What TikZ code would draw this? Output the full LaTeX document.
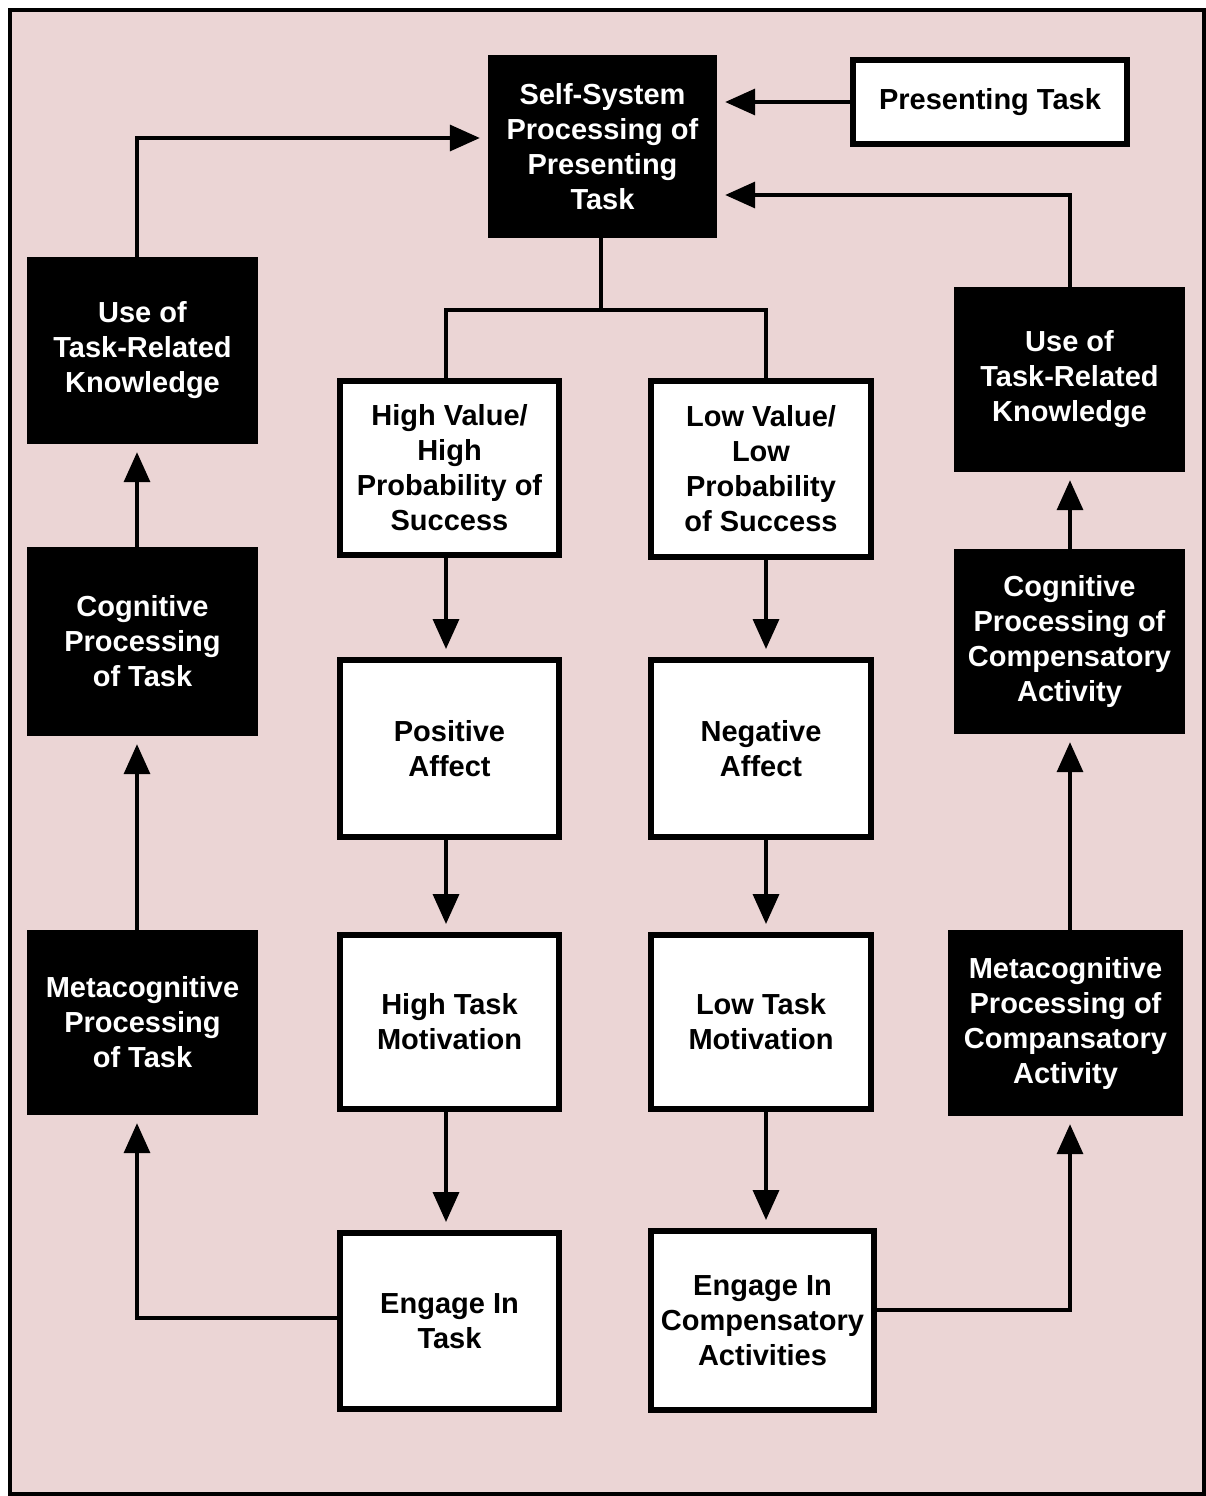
\documentclass[tikz,border=0pt]{standalone}
\usepackage{fontspec}
\setmainfont{Liberation Sans}
\usetikzlibrary{arrows.meta,calc}
\definecolor{bgpink}{HTML}{EBD5D5}
\begin{document}
\begin{tikzpicture}[x=1pt,y=-1pt,
  boxfont/.style={font=\bfseries\fontsize{29}{35}\selectfont},
  blackbox/.style={boxfont,fill=black,text=white,draw=none,align=center,inner sep=0pt},
  whitebox/.style={boxfont,fill=white,text=black,draw=black,line width=6pt,align=center,inner sep=0pt},
  arr/.style={line width=3.5pt,-{Triangle[length=30pt,width=26pt]},shorten >=8pt},
  conn/.style={line width=3.5pt}]
\useasboundingbox (0,0) rectangle (1206,1496);
\fill[white] (0,0) rectangle (1206,1496);
\draw[fill=bgpink,line width=3.5pt] (10,10) rectangle (1204,1494);

% top
\node[blackbox,minimum width=229pt,minimum height=183pt] (ss) at (602.5,146.5) {Self-System\\Processing of\\Presenting\\Task};
\node[whitebox,minimum width=274pt,minimum height=84pt] (pt) at (990,102) {Presenting Task};

% left column
\node[blackbox,minimum width=231pt,minimum height=187pt] (lu) at (142.5,350.5) {Use of\\Task-Related\\Knowledge};
\node[blackbox,minimum width=231pt,minimum height=189pt] (lc) at (142.5,641.5) {Cognitive\\Processing\\of Task};
\node[blackbox,minimum width=231pt,minimum height=185pt] (lm) at (142.5,1022.5) {Metacognitive\\Processing\\of Task};

% middle-left column
\node[whitebox,minimum width=219pt,minimum height=174pt] (hv) at (449.5,468) {High Value/\\High\\Probability of\\Success};
\node[whitebox,minimum width=219pt,minimum height=177pt] (pa) at (449.5,748.5) {Positive\\Affect};
\node[whitebox,minimum width=219pt,minimum height=174pt] (ht) at (449.5,1022) {High Task\\Motivation};
\node[whitebox,minimum width=219pt,minimum height=176pt] (ei) at (449.5,1321) {Engage In\\Task};

% middle-right column
\node[whitebox,minimum width=220pt,minimum height=176pt] (lv) at (761,469) {Low Value/\\Low\\Probability\\of Success};
\node[whitebox,minimum width=220pt,minimum height=177pt] (na) at (761,748.5) {Negative\\Affect};
\node[whitebox,minimum width=220pt,minimum height=174pt] (lt) at (761,1022) {Low Task\\Motivation};
\node[whitebox,minimum width=223pt,minimum height=179pt] (ec) at (762.5,1320.5) {Engage In\\Compensatory\\Activities};

% right column
\node[blackbox,minimum width=231pt,minimum height=185pt] (ru) at (1069.5,379.5) {Use of\\Task-Related\\Knowledge};
\node[blackbox,minimum width=231pt,minimum height=185pt] (rc) at (1069.5,641.5) {Cognitive\\Processing of\\Compensatory\\Activity};
\node[blackbox,minimum width=235pt,minimum height=186pt] (rm) at (1065.5,1023) {Metacognitive\\Processing of\\Compansatory\\Activity};

% column coordinates
\coordinate (cL) at (137,0);
\coordinate (cA) at (446,0);
\coordinate (cB) at (766,0);
\coordinate (cR) at (1070,0);
\coordinate (split) at (601,310);

% connectors
\draw[arr] (pt.west) -- (ss.east |- pt.west);
\draw[arr] (ru.north -| cR) |- (ss.east |- 0,195);
\draw[arr] (lu.north -| cL) |- (ss.west |- 0,138);

\draw[conn] (ss.south -| split) -- (split);
\draw[conn,line join=miter] (hv.north -| cA) -- (cA |- split) -- (cB |- split) -- (lv.north -| cB);

\draw[arr] (hv.south -| cA) -- (pa.north -| cA);
\draw[arr] (pa.south -| cA) -- (ht.north -| cA);
\draw[arr] (ht.south -| cA) -- (ei.north -| cA);

\draw[arr] (lv.south -| cB) -- (na.north -| cB);
\draw[arr] (na.south -| cB) -- (lt.north -| cB);
\draw[arr] (lt.south -| cB) -- (ec.north -| cB);

\draw[arr] (ei.west |- 0,1318) -| (lm.south -| cL);
\draw[arr] (lm.north -| cL) -- (lc.south -| cL);
\draw[arr] (lc.north -| cL) -- (lu.south -| cL);

\draw[arr] (ec.east |- 0,1310) -| (rm.south -| cR);
\draw[arr] (rm.north -| cR) -- (rc.south -| cR);
\draw[arr] (rc.north -| cR) -- (ru.south -| cR);
\end{tikzpicture}
\end{document}
